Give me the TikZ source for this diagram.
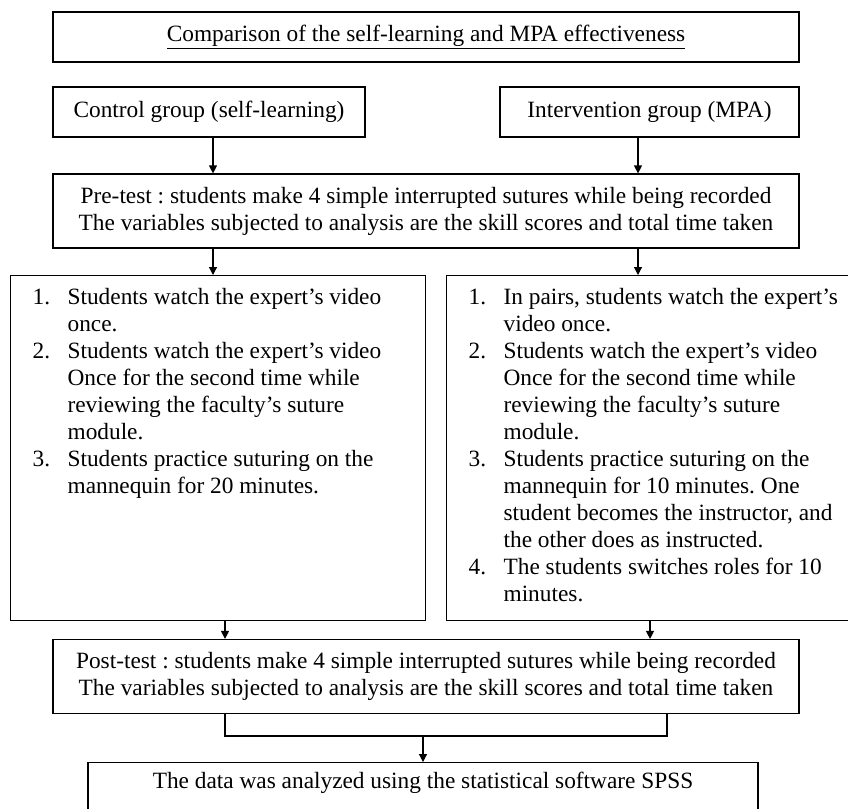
\documentclass[tikz,border=0pt]{standalone}
\usepackage{fontspec}
\setmainfont{Liberation Serif}
\usetikzlibrary{arrows.meta,positioning,calc}
\frenchspacing

\tikzset{
  every node/.style={font=\fontsize{17.5}{20.25}\selectfont},
  box/.style={draw,align=center},
  stepbox/.style={draw,anchor=north west,inner xsep=0pt,inner ysep=7.5pt},
  >={Triangle[length=6pt,width=6pt]}
}
\newcommand{\steplist}[1]{\parbox[t][243.75pt][t]{311.25pt}{%
  \begin{tabular}[t]{@{\hspace{16.5pt}}p{26.25pt}@{}l@{}}#1\end{tabular}}}

\begin{document}
\begin{tikzpicture}[x=0.75pt,y=-0.75pt,line width=0.9pt]
\useasboundingbox (0,0) rectangle (848,808);
\node[box,minimum width=559.5pt,minimum height=37.5pt] (title) at (426,37)
  {\underline{Comparison of the self-learning and MPA effectiveness}};
\node[box,minimum width=234pt,minimum height=37.5pt] (ctrl) at (209,112) {Control group (self-learning)};
\node[box,minimum width=224.25pt,minimum height=37.5pt] (intv) at (649.5,112) {Intervention group (MPA)};
\node[box,minimum width=559.5pt,minimum height=55.5pt] (pre) at (426,211)
  {Pre-test : students make 4 simple interrupted sutures while being recorded\\
   The variables subjected to analysis are the skill scores and total time taken};
\node[stepbox] (ctrlsteps) at (10,275) {\steplist{
  1. & Students watch the expert's video\\
     & once.\\
  2. & Students watch the expert's video\\
     & Once for the second time while\\
     & reviewing the faculty's suture\\
     & module.\\
  3. & Students practice suturing on the\\
     & mannequin for 20 minutes.}};
\node[stepbox] (intvsteps) at (446,275) {\steplist{
  1. & In pairs, students watch the expert's\\
     & video once.\\
  2. & Students watch the expert's video\\
     & Once for the second time while\\
     & reviewing the faculty's suture\\
     & module.\\
  3. & Students practice suturing on the\\
     & mannequin for 10 minutes. One\\
     & student becomes the instructor, and\\
     & the other does as instructed.\\
  4. & The students switches roles for 10\\
     & minutes.}};
\node[box,minimum width=559.5pt,minimum height=55.5pt] (post) at (426,676.5)
  {Post-test : students make 4 simple interrupted sutures while being recorded\\
   The variables subjected to analysis are the skill scores and total time taken};
\node[draw,anchor=north,minimum width=502.5pt,inner ysep=0pt,text height=19.5pt,text depth=22.5pt] (spss) at (423,762)
  {The data was analyzed using the statistical software SPSS};

\coordinate (lx) at (213,0);
\coordinate (rx) at (638,0);
\coordinate (lx2) at (225,0);
\coordinate (rx2) at (650,0);
\coordinate (jl) at (225,736);
\coordinate (jr) at (667,736);

\draw[->] (ctrl.south -| lx) -- (pre.north -| lx);
\draw[->] (intv.south -| rx) -- (pre.north -| rx);
\draw[->] (pre.south -| lx) -- (ctrlsteps.north -| lx);
\draw[->] (pre.south -| rx) -- (intvsteps.north -| rx);
\draw[->] (ctrlsteps.south -| lx2) -- (post.north -| lx2);
\draw[->] (intvsteps.south -| rx2) -- (post.north -| rx2);
\draw (post.south -| jl) -- (jl) -- (jr) -- (post.south -| jr);
\draw[->] (spss.north |- jl) -- (spss.north);
\end{tikzpicture}
\end{document}
